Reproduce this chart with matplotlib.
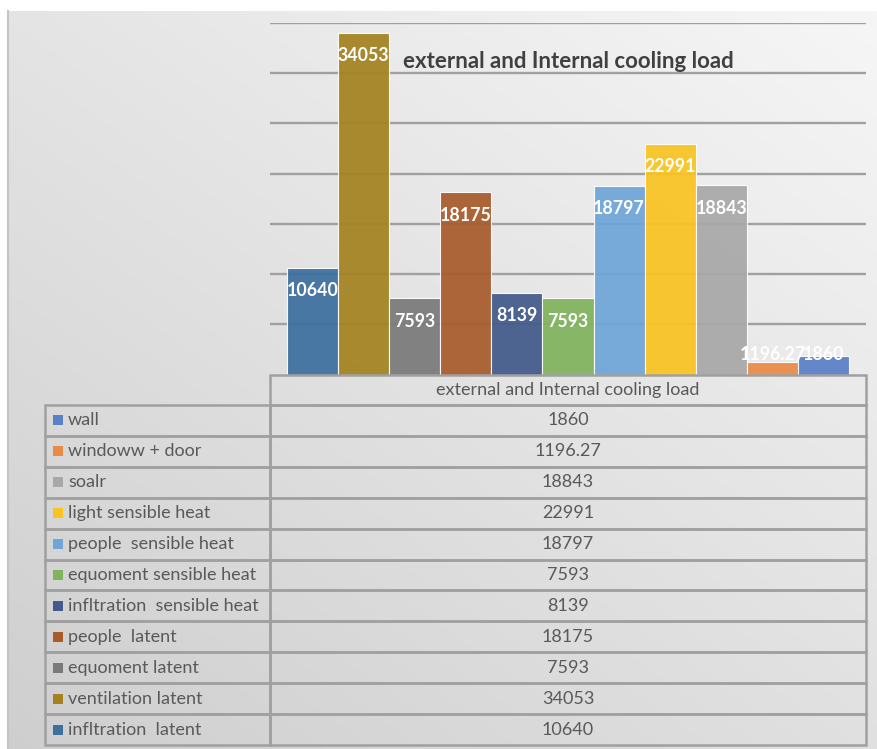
import numpy as np
import matplotlib
matplotlib.use("Agg")
import matplotlib.pyplot as plt
from matplotlib.patches import Rectangle
from matplotlib.lines import Line2D

plt.rcParams['font.family'] = ['Lato', 'DejaVu Sans']

# Cooling load components, in the order the columns are drawn (left to right)
series_names = [
    "infltration  latent",
    "ventilation latent",
    "equoment latent",
    "people  latent",
    "infltration  sensible heat",
    "equoment sensible heat",
    "people  sensible heat",
    "light sensible heat",
    "soalr",
    "windoww + door",
    "wall",
]
series_values = [10640, 34053, 7593, 18175, 8139, 7593, 18797, 22991, 18843, 1196.27, 1860]
series_labels = ["10640", "34053", "7593", "18175", "8139", "7593", "18797", "22991", "18843", "1196.27", "1860"]
series_colors = [
    "#3d6f9f", "#a4821f", "#7a7a7a", "#a85b2b", "#435a8a", "#80b35d",
    "#6fa5d8", "#f9c322", "#a8a8a8", "#e98b47", "#5a80c8",
]
category = "external and Internal cooling load"
title_text = "external and Internal cooling load"
y_ticks = [5000, 10000, 15000, 20000, 25000, 30000, 35000]

W, H = 878, 749
fig = plt.figure(figsize=(W / 100, H / 100), dpi=100)
fig.patch.set_facecolor("white")

# --- gradient chart background -------------------------------------------
bg = fig.add_axes([8 / W, 0, (W - 8) / W, (H - 11) / H])
bg.set_axis_off()
gx = np.linspace(0, 1, 200)
gy = np.linspace(0, 1, 200)
GX, GY = np.meshgrid(gx, gy)
t = np.clip(0.55 * GY + 0.45 * (1 - GX), 0, 1)   # 0 = top-right, 1 = bottom-left
top = np.array([0.965, 0.965, 0.965])
bot = np.array([0.81, 0.81, 0.81])
img = top[None, None, :] * (1 - t[..., None]) + bot[None, None, :] * t[..., None]
bg.imshow(img, aspect="auto", extent=[0, 1, 1, 0], interpolation="bilinear")
bg.set_xlim(0, 1)
bg.set_ylim(1, 0)

# overlay axes in pixel coordinates for the frame and data table
ov = fig.add_axes([0, 0, 1, 1], zorder=5)
ov.set_xlim(0, W)
ov.set_ylim(H, 0)
ov.set_axis_off()
ov.patch.set_alpha(0)
ov.add_line(Line2D([8.5, 8.5], [11, H], color="#c4c4c4", lw=1.5))

# --- column chart ---------------------------------------------------------
pl, pr, ptop, pbot = 270, 866, 23, 374.5
ax = fig.add_axes([pl / W, 1 - pbot / H, (pr - pl) / W, (pbot - ptop) / H], zorder=3)
ax.patch.set_alpha(0)
n = len(series_values)
x = np.arange(n)
gap = 0.33
ax.set_xlim(-0.5 - gap, n - 0.5 + gap)
ax.set_ylim(0, 35000)
for yv in y_ticks:
    ax.axhline(yv, color="#a0a0a0", lw=1.7, zorder=1)
ax.bar(x, series_values, width=1.0, color=series_colors, alpha=0.93,
       edgecolor=(1, 1, 1, 0.55), linewidth=0.8, zorder=2)
for xi, v, lab in zip(x, series_values, series_labels):
    ax.text(xi, max(v - 2300, 2040), lab, ha="center", va="center",
            color="white", fontsize=12.8, fontweight="bold", zorder=4)
for s in ax.spines.values():
    s.set_visible(False)
ax.set_xticks([])
ax.set_yticks([])

fig.text(568 / W, 1 - 62 / H, title_text, ha="center", va="center",
         fontsize=16, fontweight="bold", color="#404040", zorder=6)

# --- data table -----------------------------------------------------------
border = "#a0a0a0"
blw = 1.8
tx0, tx1, tx2 = 45, 270, 866
hy0, hy1 = 375, 405
row_h = (745 - 405) / n
text_col = "#595959"
fs = 13

# header cell
ov.add_patch(Rectangle((tx1, hy0), tx2 - tx1, hy1 - hy0, fill=False,
                       edgecolor=border, lw=blw))
ov.text((tx1 + tx2) / 2, (hy0 + hy1) / 2, category, ha="center", va="center",
        fontsize=fs, color=text_col)

table_names = series_names[::-1]
table_labels = series_labels[::-1]
table_colors = series_colors[::-1]
for i, (nm, lab, col) in enumerate(zip(table_names, table_labels, table_colors)):
    y0 = hy1 + i * row_h
    yc = y0 + row_h / 2
    ov.add_patch(Rectangle((tx0, y0), tx1 - tx0, row_h, fill=False,
                           edgecolor=border, lw=blw))
    ov.add_patch(Rectangle((tx1, y0), tx2 - tx1, row_h, fill=False,
                           edgecolor=border, lw=blw))
    ov.add_patch(Rectangle((53, yc - 5), 10, 10, facecolor=col, edgecolor="none"))
    ov.text(68, yc, nm, ha="left", va="center", fontsize=fs, color=text_col)
    ov.text((tx1 + tx2) / 2, yc, lab, ha="center", va="center",
            fontsize=fs, color=text_col)

fig.savefig("out.png", dpi=100)
